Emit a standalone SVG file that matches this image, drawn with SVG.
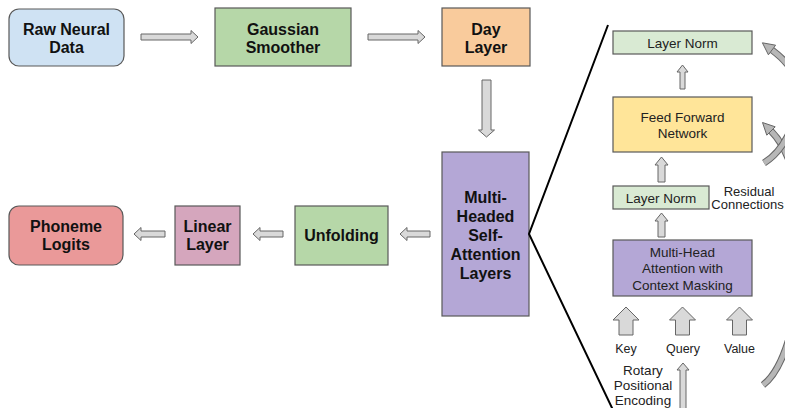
<svg xmlns="http://www.w3.org/2000/svg" width="785" height="408" viewBox="0 0 785 408">
  <style>
    .box { stroke: #595959; stroke-width: 1.2; }
    .main { font-family: "Liberation Sans", Arial, sans-serif; font-size: 16px; font-weight: bold; fill: #111; text-anchor: middle; }
    .sub { font-family: "Liberation Sans", Arial, sans-serif; font-size: 13.5px; fill: #222; text-anchor: middle; }
    .lbl { font-family: "Liberation Sans", Arial, sans-serif; font-size: 12.5px; fill: #222; text-anchor: middle; }
    .blk { fill: #d9d9d9; stroke: #666; stroke-width: 1; }
    .curve-out { fill: none; stroke: #666; stroke-width: 7; }
    .curve-in { fill: none; stroke: #b7b7b7; stroke-width: 5; }
    .curve-head { fill: #b7b7b7; stroke: #666; stroke-width: 1; }
  </style>

  <rect width="785" height="408" fill="#ffffff"/>

  <!-- pipeline nodes -->
  <g id="raw-neural-data">
    <rect class="box" x="9" y="9" width="115" height="57" rx="10" fill="#cfe2f3"/>
    <text class="main" x="66.5" y="34.5">Raw Neural</text>
    <text class="main" x="66.5" y="52.5">Data</text>
  </g>
  <g id="gaussian-smoother">
    <rect class="box" x="215" y="8" width="136" height="58" fill="#b6d7a8"/>
    <text class="main" x="283" y="34.5">Gaussian</text>
    <text class="main" x="283" y="52.5">Smoother</text>
  </g>
  <g id="day-layer">
    <rect class="box" x="442" y="8" width="88" height="58" fill="#f9cb9c"/>
    <text class="main" x="486" y="34.5">Day</text>
    <text class="main" x="486" y="52.5">Layer</text>
  </g>
  <g id="self-attention-layers">
    <rect class="box" x="442" y="152" width="87" height="164" fill="#b4a7d6"/>
    <text class="main" x="485.5" y="202.5">Multi-</text>
    <text class="main" x="485.5" y="221.5">Headed</text>
    <text class="main" x="485.5" y="240.5">Self-</text>
    <text class="main" x="485.5" y="259.5">Attention</text>
    <text class="main" x="485.5" y="278.5">Layers</text>
  </g>
  <g id="unfolding">
    <rect class="box" x="295" y="206" width="93" height="59" fill="#b6d7a8"/>
    <text class="main" x="341.5" y="241">Unfolding</text>
  </g>
  <g id="linear-layer">
    <rect class="box" x="175" y="206" width="65" height="59" fill="#d5a6bd"/>
    <text class="main" x="207.5" y="231.5">Linear</text>
    <text class="main" x="207.5" y="249.5">Layer</text>
  </g>
  <g id="phoneme-logits">
    <rect class="box" x="9" y="206" width="114" height="59" rx="10" fill="#ea9999"/>
    <text class="main" x="66" y="231.5">Phoneme</text>
    <text class="main" x="66" y="249.5">Logits</text>
  </g>

  <!-- expanded view of one attention layer -->
  <g id="layer-norm-top">
    <rect class="box" x="613" y="31" width="139" height="23" fill="#d9ead3"/>
    <text class="sub" x="682.5" y="47.5">Layer Norm</text>
  </g>
  <g id="feed-forward">
    <rect class="box" x="613" y="97" width="139" height="55" fill="#ffe599"/>
    <text class="sub" x="682.5" y="121.5">Feed Forward</text>
    <text class="sub" x="682.5" y="137.5">Network</text>
  </g>
  <g id="layer-norm-mid">
    <rect class="box" x="613" y="186" width="96" height="23" fill="#d9ead3"/>
    <text class="sub" x="661" y="202.5">Layer Norm</text>
  </g>
  <g id="multi-head-attention">
    <rect class="box" x="613" y="240" width="139" height="56" fill="#b4a7d6"/>
    <text class="sub" x="682.5" y="256.5">Multi-Head</text>
    <text class="sub" x="682.5" y="273">Attention with</text>
    <text class="sub" x="682.5" y="289.5">Context Masking</text>
  </g>
  <g id="residual-label">
    <text class="sub" x="749" y="195.5" style="font-size:13px">Residual</text>
    <text class="sub" x="747.5" y="209" style="font-size:13px">Connections</text>
  </g>
  <g id="input-labels">
    <text class="lbl" x="626" y="352.5">Key</text>
    <text class="lbl" x="683" y="352.5">Query</text>
    <text class="lbl" x="739.5" y="352.5">Value</text>
    <text class="sub" x="643" y="375">Rotary</text>
    <text class="sub" x="643" y="390">Positional</text>
    <text class="sub" x="643" y="405">Encoding</text>
  </g>

  <!-- connectors -->
  <g id="connectors">
    <!-- pipeline block arrows -->
    <polygon class="blk" points="141,34 191,34 191,30.5 198,37 191,43.5 191,40 141,40"/>
    <polygon class="blk" points="368,34 418,34 418,30.5 425,37 418,43.5 418,40 368,40"/>
    <polygon class="blk" points="482,80 491,80 491,130 494.5,130 486.5,137 478.5,130 482,130"/>
    <polygon class="blk" points="430,231 407,231 407,227.5 400,234 407,240.5 407,237 430,237"/>
    <polygon class="blk" points="283,231 260,231 260,227.5 253,234 260,240.5 260,237 283,237"/>
    <polygon class="blk" points="165,231 141,231 141,227.5 134,234 141,240.5 141,237 165,237"/>

    <!-- zoom-out lines from the attention block -->
    <polyline points="608,25 529,234 613,410" fill="none" stroke="#000" stroke-width="2"/>

    <!-- stack arrows -->
    <polygon class="blk" points="680,89 680,72 677,72 682.5,65 688,72 685,72 685,89"/>
    <polygon class="blk" points="658,182 658,165 655,165 661.5,157 668,165 665,165 665,182"/>
    <polygon class="blk" points="658,237 658,221 655,221 661.5,213 668,221 665,221 665,237"/>

    <!-- key / query / value inputs -->
    <polygon class="blk" points="619,335 619,320 613,320 626,307 639,320 633,320 633,335"/>
    <polygon class="blk" points="675.5,335 675.5,320 669.5,320 682.5,307 695.5,320 689.5,320 689.5,335"/>
    <polygon class="blk" points="732.5,335 732.5,320 726.5,320 739.5,307 752.5,320 746.5,320 746.5,335"/>
    <polygon class="blk" points="680,410 680,370 677,370 683,363 689,370 686,370 686,410"/>

    <!-- residual connections -->
    <path class="curve-out" d="M763,385 C790,365 802,290 802,250 C802,190 790,150 771,131"/>
    <path class="curve-in" d="M763,385 C790,365 802,290 802,250 C802,190 790,150 771,131"/>
    <polygon class="curve-head" points="762.5,122.5 775.2,126.8 766.8,135.2"/>
    <path class="curve-out" d="M764,163 C785,150 798,120 798,95 C798,75 788,62 772,50"/>
    <path class="curve-in" d="M764,163 C785,150 798,120 798,95 C798,75 788,62 772,50"/>
    <polygon class="curve-head" points="762.4,42.8 775.6,45.2 768.4,54.8"/>
  </g>
</svg>
